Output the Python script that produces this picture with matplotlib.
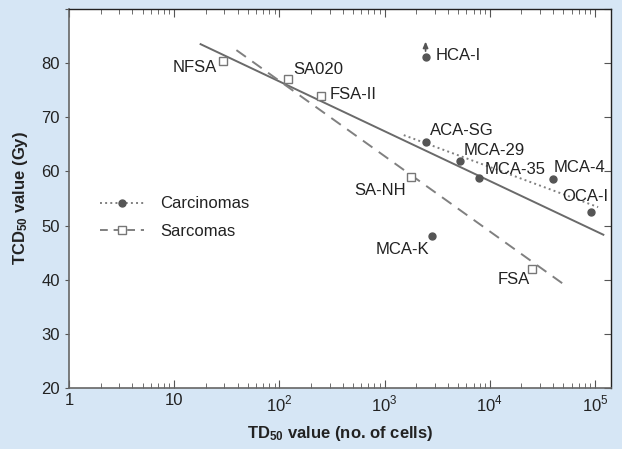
import matplotlib
matplotlib.use("Agg")
import matplotlib.pyplot as plt
import numpy as np
from matplotlib.ticker import LogLocator, FixedLocator, FuncFormatter

plt.rcParams["font.family"] = ["Liberation Sans", "DejaVu Sans"]
plt.rcParams["mathtext.fontset"] = "custom"
plt.rcParams["mathtext.rm"] = "Liberation Sans"
plt.rcParams["mathtext.bf"] = "Liberation Sans:bold"

# carcinomas (filled circles)
carc_names = ["HCA-I", "ACA-SG", "MCA-29", "MCA-35", "MCA-4", "OCA-I", "MCA-K"]
carc_td50 = [2450, 2450, 5150, 7900, 40000, 91000, 2800]
carc_tcd50 = [81.1, 65.5, 62.0, 58.8, 58.6, 52.5, 48.1]
# label offsets (points): dx, dy, ha
carc_offs = [(7, 1, "left"), (3, 8, "left"), (3, 7, "left"), (4, 6, "left"),
             (0, 8, "left"), (-4, 11, "center"), (-2, -10, "right")]

# sarcomas (open squares)
sarc_names = ["NFSA", "SA020", "FSA-II", "SA-NH", "FSA"]
sarc_td50 = [29, 120, 250, 1800, 25000]
sarc_tcd50 = [80.4, 77.0, 73.9, 59.0, 42.0]
sarc_offs = [(-4, -5, "right"), (4, 7, "left"), (6, 1, "left"),
             (-4, -10, "right"), (-1, -8, "right")]

# regression lines (end points)
all_x = [17.8, 120000]
all_y = [83.5, 48.3]
sarc_fit_x = [39, 52500]
sarc_fit_y = [82.4, 38.9]
carc_fit_x = [1520, 107000]
carc_fit_y = [66.7, 53.4]

FS = 12

fig = plt.figure(figsize=(6.22, 4.49), dpi=100, facecolor="#d6e6f5")
ax = fig.add_axes([0.111, 0.136, 0.871, 0.844])
ax.set_facecolor("white")

ax.plot(all_x, all_y, "-", color="#6a6a6a", lw=1.4, zorder=2)
ax.plot(sarc_fit_x, sarc_fit_y, "--", color="#808080", lw=1.4,
        dashes=(6, 4), zorder=2)
ax.plot(carc_fit_x, carc_fit_y, ":", color="#808080", lw=1.4, zorder=2)

ax.plot(carc_td50, carc_tcd50, "o", ms=5, color="#555555", zorder=4)
ax.plot(sarc_td50, sarc_tcd50, "s", ms=6, mfc="white", mec="#777777",
        mew=1.0, zorder=4)

for n, x, y, (dx, dy, ha) in zip(carc_names, carc_td50, carc_tcd50, carc_offs):
    ax.annotate(n, (x, y), xytext=(dx, dy), textcoords="offset points",
                ha=ha, va="center", fontsize=FS, color="#222222", zorder=5)
for n, x, y, (dx, dy, ha) in zip(sarc_names, sarc_td50, sarc_tcd50, sarc_offs):
    ax.annotate(n, (x, y), xytext=(dx, dy), textcoords="offset points",
                ha=ha, va="center", fontsize=FS, color="#222222", zorder=5)

# arrow above HCA-I (lower limit)
ax.annotate("", xy=(carc_td50[0], carc_tcd50[0] + 3.4),
            xytext=(carc_td50[0], carc_tcd50[0] + 0.6),
            arrowprops=dict(arrowstyle="-|>,head_length=0.35,head_width=0.15",
                            color="#555555", lw=1.2))

# legend
ax.plot([], [], ":", marker="o", ms=5, color="#808080", mfc="#555555",
        mec="#555555", lw=1.4, label="Carcinomas")
ax.plot([], [], "--", marker="s", ms=6, color="#808080", mfc="white",
        mec="#777777", lw=1.4, dashes=(4, 3), label="Sarcomas")
ax.legend(loc="upper left", bbox_to_anchor=(0.03, 0.545), frameon=False,
          fontsize=FS, handlelength=2.6, handletextpad=1.0, labelspacing=0.75,
          labelcolor="#222222")

ax.set_xscale("log")
ax.set_xlim(1, 10 ** 5.15)
ax.set_ylim(20, 90)
ax.xaxis.set_major_locator(LogLocator(base=10, numticks=10))
ax.xaxis.set_minor_locator(LogLocator(base=10, subs=np.arange(2, 10), numticks=10))
labs = {1: "1", 10: "10"}
ax.xaxis.set_major_formatter(FuncFormatter(
    lambda v, p: labs.get(int(round(v)), "$10^{%d}$" % round(np.log10(v)))))
ax.yaxis.set_major_locator(FixedLocator([20, 30, 40, 50, 60, 70, 80, 90]))
ax.yaxis.set_major_formatter(FuncFormatter(
    lambda v, p: "" if v > 85 else "%d" % v))

ax.tick_params(axis="x", which="both", direction="in", top=True,
               colors="#555555", labelcolor="#222222", labelsize=FS, pad=4)
ax.tick_params(axis="x", which="major", length=6)
ax.tick_params(axis="x", which="minor", length=3.5)
ax.tick_params(axis="y", which="major", direction="out", length=3,
               colors="#555555", labelcolor="#222222", labelsize=FS)
ax.tick_params(axis="y", which="major", right=True)
for t in ax.yaxis.get_major_ticks():
    t.tick2line.set_marker(0)  # inward on right side
    t.tick2line.set_markersize(5)

for s in ["left", "bottom"]:
    ax.spines[s].set_color("#666666")
    ax.spines[s].set_linewidth(1.2)
for s in ["top", "right"]:
    ax.spines[s].set_color("#222222")
    ax.spines[s].set_linewidth(1.0)

ax.set_xlabel(r"$\mathbf{TD_{50}}$ value (no. of cells)", fontsize=FS,
              fontweight="bold", color="#222222", labelpad=7)
ax.set_ylabel(r"$\mathbf{TCD_{50}}$ value (Gy)", fontsize=FS,
              fontweight="bold", color="#222222", labelpad=8)

fig.savefig("out.png", dpi=100, facecolor=fig.get_facecolor())
